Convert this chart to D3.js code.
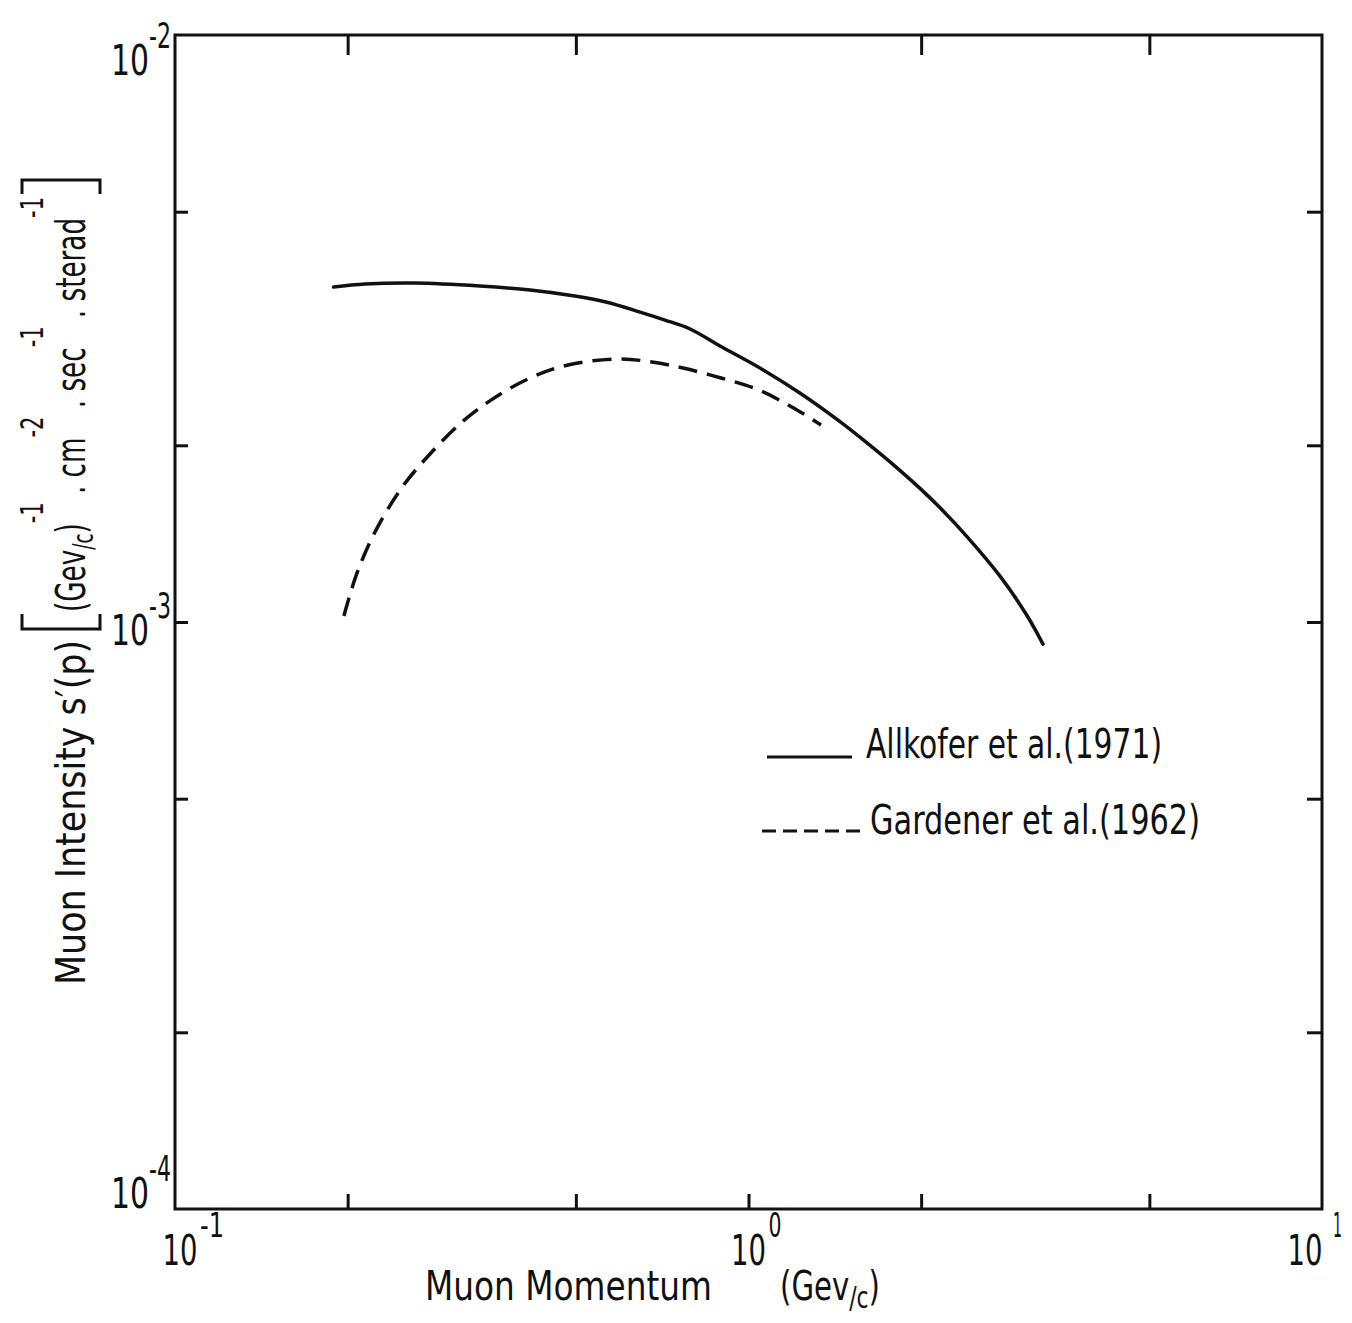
<!DOCTYPE html>
<html>
<head>
<meta charset="utf-8">
<script src="https://cdn.jsdelivr.net/npm/d3@7"></script>
<style>
  html, body { margin: 0; padding: 0; background: #fff; }
  svg text { font-family: "Liberation Sans Narrow", "DejaVu Sans Condensed", "DejaVu Sans", sans-serif; fill: #111; }
</style>
</head>
<body>
<svg id="chart" width="1352" height="1323"></svg>
<script>
// ---- data ----
const allkoferP = [0.189, 0.2145, 0.262, 0.340, 0.416, 0.498, 0.564, 0.647, 0.715, 0.791, 0.892, 1.047, 1.229, 1.444, 1.609, 1.815, 1.991, 2.158, 2.404, 2.745, 3.059, 3.262];
const allkoferI = [3.72e-3, 3.765e-3, 3.78e-3, 3.736e-3, 3.678e-3, 3.592e-3, 3.508e-3, 3.373e-3, 3.269e-3, 3.156e-3, 2.952e-3, 2.708e-3, 2.455e-3, 2.194e-3, 2.019e-3, 1.831e-3, 1.689e-3, 1.565e-3, 1.398e-3, 1.197e-3, 1.026e-3, 9.17e-4];
const gardenerP = [0.197, 0.2077, 0.2241, 0.2498, 0.2784, 0.3152, 0.3556, 0.4159, 0.4845, 0.5922, 0.6787, 0.7688, 0.8956, 1.043, 1.215, 1.338];
const gardenerI = [1.024e-3, 1.212e-3, 1.434e-3, 1.705e-3, 1.933e-3, 2.183e-3, 2.388e-3, 2.604e-3, 2.741e-3, 2.806e-3, 2.773e-3, 2.708e-3, 2.604e-3, 2.484e-3, 2.297e-3, 2.166e-3];
const xMajorTicks = [0.1, 1, 10];
const xMajorExp = ["-1", "0", "1"];
const xMinorTicks = [0.2, 0.5, 1, 2, 5];
const yMajorTicks = [1e-2, 1e-3, 1e-4];
const yMajorExp = ["-2", "-3", "-4"];
const yMinorTicks = [5e-3, 2e-3, 1e-3, 5e-4, 2e-4];
const seriesNames = ["Allkofer et al.(1971)", "Gardener et al.(1962)"];

// ---- layout ----
const svg = d3.select("#chart");
const L = 175, R = 1322, T = 35, B = 1209;
const x = d3.scaleLog().domain([0.1, 10]).range([L, R]);
const y = d3.scaleLog().domain([1e-4, 1e-2]).range([B, T]);

// ticks via d3 axes (inward)
const tickStyle = g => { g.select(".domain").remove(); g.selectAll("line").attr("stroke", "#111").attr("stroke-width", 3); g.selectAll("text").remove(); };
svg.append("g").attr("transform", `translate(0,${B})`)
  .call(d3.axisBottom(x).tickValues(xMinorTicks).tickSize(-15).tickFormat("")).call(tickStyle);
svg.append("g").attr("transform", `translate(0,${T})`)
  .call(d3.axisTop(x).tickValues([0.2, 0.5, 2, 5]).tickSize(-20).tickFormat("")).call(tickStyle);
svg.append("g").attr("transform", `translate(${L},0)`)
  .call(d3.axisLeft(y).tickValues(yMinorTicks).tickSize(-13).tickFormat("")).call(tickStyle);
svg.append("g").attr("transform", `translate(${R},0)`)
  .call(d3.axisRight(y).tickValues(yMinorTicks).tickSize(-15).tickFormat("")).call(tickStyle);

// frame
svg.append("rect").attr("x", L).attr("y", T).attr("width", R - L).attr("height", B - T)
  .attr("fill", "none").attr("stroke", "#111").attr("stroke-width", 3);

// x tick labels
const xLabelDx = [5, 0, -17];
xMajorTicks.forEach((v, i) => {
  const cx = x(v) + xLabelDx[i];
  svg.append("text").attr("x", cx).attr("y", 1265).attr("text-anchor", "middle")
    .attr("font-size", 42).attr("textLength", 35).attr("lengthAdjust", "spacingAndGlyphs").text("10");
  svg.append("text").attr("x", cx + (i === 2 ? 28 : 20)).attr("y", 1237)
    .attr("font-size", 34).attr("textLength", xMajorExp[i].length * 11 + (i === 2 ? -2 : 2))
    .attr("lengthAdjust", "spacingAndGlyphs").text(xMajorExp[i]);
});

// y tick labels
const yLabelDy = [40, 23, -1];
yMajorTicks.forEach((v, i) => {
  const by = y(v) + yLabelDy[i];
  svg.append("text").attr("x", 149).attr("y", by).attr("text-anchor", "end")
    .attr("font-size", 42).attr("textLength", 38).attr("lengthAdjust", "spacingAndGlyphs").text("10");
  svg.append("text").attr("x", 149).attr("y", by - 27)
    .attr("font-size", 35).attr("textLength", 22).attr("lengthAdjust", "spacingAndGlyphs").text(yMajorExp[i]);
});

// curves
const line = d3.line().x(d => x(d[0])).y(d => y(d[1])).curve(d3.curveCatmullRom.alpha(0.5));
svg.append("path").datum(d3.zip(allkoferP, allkoferI)).attr("d", line)
  .attr("fill", "none").attr("stroke", "#111").attr("stroke-width", 3.5).attr("stroke-linecap", "round");
svg.append("path").datum(d3.zip(gardenerP, gardenerI)).attr("d", line)
  .attr("fill", "none").attr("stroke", "#111").attr("stroke-width", 3.5).attr("stroke-dasharray", "19,10");

// legend
svg.append("line").attr("x1", 767).attr("x2", 852).attr("y1", 757).attr("y2", 757)
  .attr("stroke", "#111").attr("stroke-width", 3);
svg.append("text").attr("x", 866).attr("y", 758).attr("font-size", 40)
  .attr("textLength", 296).attr("lengthAdjust", "spacingAndGlyphs").text(seriesNames[0]);
svg.append("line").attr("x1", 762).attr("x2", 860).attr("y1", 831).attr("y2", 831)
  .attr("stroke", "#111").attr("stroke-width", 3).attr("stroke-dasharray", "14,7");
svg.append("text").attr("x", 870).attr("y", 834).attr("font-size", 40)
  .attr("textLength", 330).attr("lengthAdjust", "spacingAndGlyphs").text(seriesNames[1]);

// x axis title
svg.append("text").attr("x", 425).attr("y", 1300).attr("font-size", 40)
  .attr("textLength", 287).attr("lengthAdjust", "spacingAndGlyphs").text("Muon Momentum");
const xt = svg.append("text").attr("x", 780).attr("y", 1300).attr("font-size", 40)
  .attr("textLength", 100).attr("lengthAdjust", "spacingAndGlyphs");
xt.append("tspan").text("(Gev");
xt.append("tspan").attr("font-size", 30).attr("dy", 8).text("/c");
xt.append("tspan").attr("dy", -8).text(")");

// y axis title (rotated)
svg.append("text").attr("transform", "translate(85,985) rotate(-90)").attr("font-size", 40)
  .attr("textLength", 345).attr("lengthAdjust", "spacingAndGlyphs").text("Muon Intensity  s\u2032(p)");
svg.append("path").attr("d", "M22,614 L22,629 L100,629 L100,614")
  .attr("fill", "none").attr("stroke", "#111").attr("stroke-width", 3);
svg.append("path").attr("d", "M22,194 L22,180 L100,180 L100,194")
  .attr("fill", "none").attr("stroke", "#111").attr("stroke-width", 3);
const yt = svg.append("text").attr("transform", "translate(85,612) rotate(-90)").attr("font-size", 40)
  .attr("textLength", 415).attr("lengthAdjust", "spacingAndGlyphs");
yt.append("tspan").text("(Gev");
yt.append("tspan").attr("font-size", 28).attr("dy", 8).text("/c");
yt.append("tspan").attr("dy", -8).text(")");
yt.append("tspan").attr("font-size", 32).attr("dy", -42).text("-1");
yt.append("tspan").attr("dy", 42).text(" . cm");
yt.append("tspan").attr("font-size", 32).attr("dy", -42).text("-2");
yt.append("tspan").attr("dy", 42).text(" . sec");
yt.append("tspan").attr("font-size", 32).attr("dy", -42).text("-1");
yt.append("tspan").attr("dy", 42).text(" . sterad");
yt.append("tspan").attr("font-size", 32).attr("dy", -42).text("-1");
</script>
</body>
</html>
